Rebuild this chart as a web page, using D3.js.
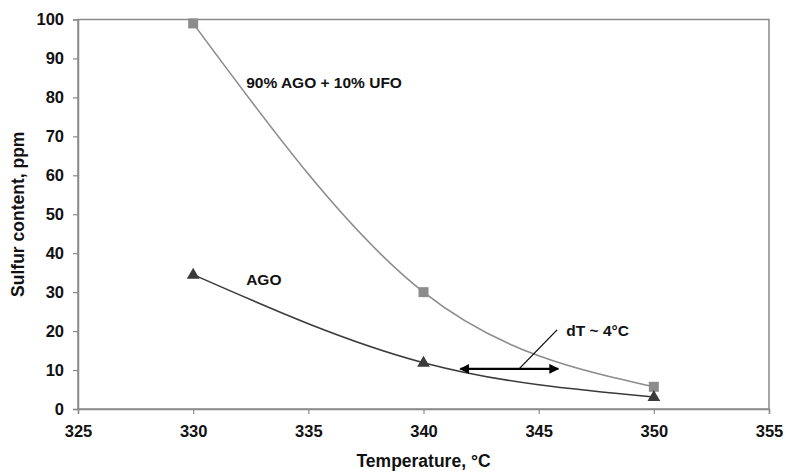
<!DOCTYPE html>
<html>
<head>
<meta charset="utf-8">
<script src="https://cdn.jsdelivr.net/npm/d3@7"></script>
<style>
  body { margin: 0; background: #fff; }
  text { font-family: Arial, "Liberation Sans", sans-serif; font-weight: bold; fill: #111; }
</style>
</head>
<body>
<div id="chart"></div>
<script>
const temps = [330, 340, 350];
const blendValues = [99, 30, 5.7];   // 90% AGO + 10% UFO
const agoValues = [34.5, 11.9, 3.1]; // AGO
const xTicks = [325, 330, 335, 340, 345, 350, 355];
const yTicks = [0, 10, 20, 30, 40, 50, 60, 70, 80, 90, 100];
const arrowTemps = [341.6, 345.85];
const arrowValue = 10.3;

var _margin = { top: 19.5, right: 17, bottom: 65, left: 78 },
  width = 786 - _margin.left - _margin.right,
  height = 474 - _margin.top - _margin.bottom;

const svg = d3.select("#chart").append("svg")
  .attr("width", 786).attr("height", 474);
const g = svg.append("g")
  .attr("transform", "translate(" + _margin.left + "," + _margin.top + ")");

const x = d3.scaleLinear().domain([325, 355]).range([0, width]);
const y = d3.scaleLinear().domain([0, 100]).range([height, 0]);

// frame
g.append("rect").attr("width", width).attr("height", height)
  .attr("fill", "none").attr("stroke", "#8a8a8a").attr("stroke-width", 1.5);

// axes
const xAxis = g.append("g").attr("transform", "translate(0," + height + ")")
  .call(d3.axisBottom(x).tickValues(xTicks).tickSize(5).tickPadding(11).tickFormat(d3.format("d")));
const yAxis = g.append("g")
  .call(d3.axisLeft(y).tickValues(yTicks).tickSize(5).tickPadding(9));
[xAxis, yAxis].forEach(a => {
  a.select(".domain").attr("stroke", "#8a8a8a").attr("stroke-width", 1.5);
  a.selectAll(".tick line").attr("stroke", "#8a8a8a").attr("stroke-width", 1.2);
  a.selectAll("text").style("font-size", "16.5px").attr("fill", "#111");
});

// axis titles
svg.append("text").attr("x", _margin.left + width / 2).attr("y", 467)
  .attr("text-anchor", "middle").style("font-size", "17.5px").text("Temperature, °C");
svg.append("text").attr("transform", "translate(24," + (_margin.top + height / 2) + ") rotate(-90)")
  .attr("text-anchor", "middle").style("font-size", "17.5px").text("Sulfur content, ppm");

const line = d3.line().x(d => x(d[0])).y(d => y(d[1])).curve(d3.curveNatural);

const blend = temps.map((t, i) => [t, blendValues[i]]);
const ago = temps.map((t, i) => [t, agoValues[i]]);

g.append("path").datum(blend).attr("d", line)
  .attr("fill", "none").attr("stroke", "#8c8c8c").attr("stroke-width", 1.6);
g.append("path").datum(ago).attr("d", line)
  .attr("fill", "none").attr("stroke", "#3a3a3a").attr("stroke-width", 1.6);

g.selectAll(".sq").data(blend).enter().append("rect")
  .attr("x", d => x(d[0]) - 5).attr("y", d => y(d[1]) - 5)
  .attr("width", 10).attr("height", 10).attr("fill", "#8c8c8c");
g.selectAll(".tri").data(ago).enter().append("path")
  .attr("d", d3.symbol().type(d3.symbolTriangle).size(70))
  .attr("transform", d => "translate(" + x(d[0]) + "," + (y(d[1]) + 0.5) + ")")
  .attr("fill", "#3a3a3a");

// series labels
g.append("text").attr("x", x(332.3)).attr("y", y(82.3)).style("font-size", "15.5px").text("90% AGO + 10% UFO");
g.append("text").attr("x", x(332.3)).attr("y", y(31.8)).style("font-size", "15.5px").text("AGO");

// dT annotation
const defs = svg.append("defs");
defs.append("marker").attr("id", "ah").attr("viewBox", "0 0 10 10")
  .attr("refX", 9).attr("refY", 5).attr("markerWidth", 4.5).attr("markerHeight", 4.5)
  .attr("orient", "auto-start-reverse")
  .append("path").attr("d", "M0,0 L10,5 L0,10 z").attr("fill", "#000");
g.append("line")
  .attr("x1", x(arrowTemps[0])).attr("x2", x(arrowTemps[1]))
  .attr("y1", y(arrowValue)).attr("y2", y(arrowValue))
  .attr("stroke", "#000").attr("stroke-width", 2.2)
  .attr("marker-start", "url(#ah)").attr("marker-end", "url(#ah)");
g.append("line")
  .attr("x1", x(344.15)).attr("y1", y(arrowValue))
  .attr("x2", x(345.8)).attr("y2", y(20.3))
  .attr("stroke", "#000").attr("stroke-width", 1.2);
g.append("text").attr("x", x(346.2)).attr("y", y(18.8)).style("font-size", "15.5px").text("dT ~ 4°C");
</script>
</body>
</html>
